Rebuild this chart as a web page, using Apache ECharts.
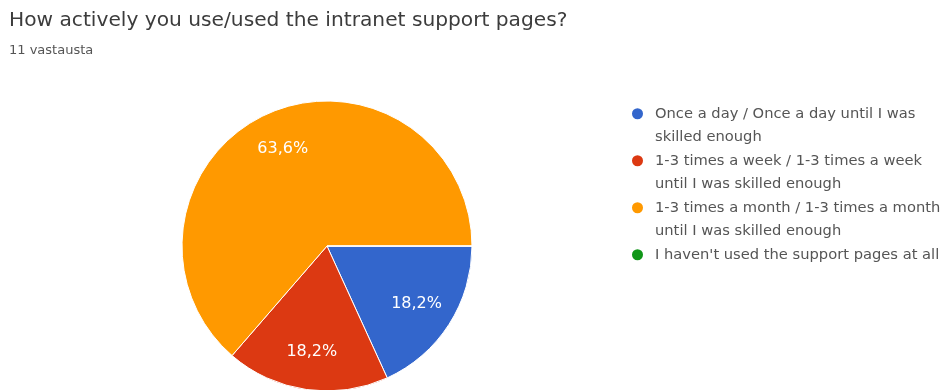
<!DOCTYPE html>
<html>
<head>
<meta charset="utf-8">
<style>
  html, body { margin: 0; padding: 0; background: #ffffff; }
  #chart { width: 944px; height: 390px; }
</style>
<script src="https://cdn.jsdelivr.net/npm/echarts@6/dist/echarts.min.js"></script>
</head>
<body>
<div id="chart"></div>
<script>
// Survey answers: how often respondents used the intranet support pages
const questionTitle = 'How actively you use/used the intranet support pages?';
const responseNote = '11 vastausta';
const categories = [
  'Once a day / Once a day until I was skilled enough',
  '1-3 times a week / 1-3 times a week until I was skilled enough',
  '1-3 times a month / 1-3 times a month until I was skilled enough',
  "I haven't used the support pages at all"
];
const answerCounts = [2, 2, 7, 0];
const sliceColors = ['#3366cc', '#dc3912', '#ff9900', '#109618'];
// legend entries whose text wraps onto two lines
const wrapsTwoLines = [true, true, true, false];

const FONT = '"DejaVu Sans", Verdana, sans-serif';
const center = [327, 246];
const outerR = 145;

// Legend markers: a 13px dot. For a wrapped entry the path box is as tall as
// the legend item so the dot sits on the first text line; for a one-line
// entry the box is just the dot's height and stays centred on the text.
const ICON_W = 19, ICON_H = 36.5, LINE_H = 23.5;
function dotPath(cy) {
  return 'M0,' + cy + 'A6.5,6.5,0,1,0,13,' + cy + 'A6.5,6.5,0,1,0,0,' + cy + 'Z';
}
const topLineIcon = 'path://' + dotPath(6.5) +
  'M0,0L0,0M' + ICON_W + ',' + ICON_H + 'L' + ICON_W + ',' + ICON_H;
const midIcon = 'path://' + dotPath(6.5) + 'M' + ICON_W + ',6.5L' + ICON_W + ',6.5';

// percent with a decimal comma, hidden for empty slices
function pctLabel(p) {
  if (!p.value) return '';
  return p.percent.toFixed(1).replace('.', ',') + '%';
}

const pieData = categories.map((name, i) => ({
  name: name,
  value: answerCounts[i],
  itemStyle: { color: sliceColors[i] }
}));

const chart = echarts.init(document.getElementById('chart'), null, { renderer: 'canvas' });
chart.setOption({
  animation: false,
  title: {
    text: questionTitle,
    subtext: responseNote,
    left: 9,
    top: 11,
    padding: 0,
    itemGap: 13,
    textStyle: { fontFamily: FONT, fontSize: 20.2, fontWeight: 'normal', color: '#3c3c3c' },
    subtextStyle: { fontFamily: FONT, fontSize: 13, color: '#555555' }
  },
  legend: {
    orient: 'vertical',
    left: 630,
    top: 102,
    padding: 0,
    itemGap: 0,
    itemWidth: ICON_W,
    itemHeight: ICON_H,
    selectedMode: false,
    textStyle: {
      fontFamily: FONT,
      fontSize: 14.7,
      color: '#555555',
      lineHeight: LINE_H,
      width: 290,
      overflow: 'break'
    },
    data: categories.map((name, i) => ({
      name: name,
      icon: wrapsTwoLines[i] ? topLineIcon : midIcon
    }))
  },
  series: [
    {
      name: 'answers',
      type: 'pie',
      center: center,
      radius: [0, outerR],
      startAngle: 0,
      clockwise: true,
      silent: true,
      itemStyle: { borderColor: '#ffffff', borderWidth: 1 },
      label: { show: false },
      labelLine: { show: false },
      data: pieData
    },
    {
      // label carrier: same slices, transparent, puts the percentages further out
      name: 'labels',
      type: 'pie',
      center: center,
      radius: [62, outerR],
      startAngle: 0,
      clockwise: true,
      silent: true,
      legendHoverLink: false,
      itemStyle: { color: 'rgba(0,0,0,0)', borderWidth: 0 },
      label: {
        show: true,
        position: 'inside',
        formatter: pctLabel,
        fontFamily: FONT,
        fontSize: 16,
        color: '#ffffff'
      },
      labelLine: { show: false },
      data: categories.map((name, i) => ({ name: name, value: answerCounts[i] }))
    }
  ]
});
</script>
</body>
</html>
